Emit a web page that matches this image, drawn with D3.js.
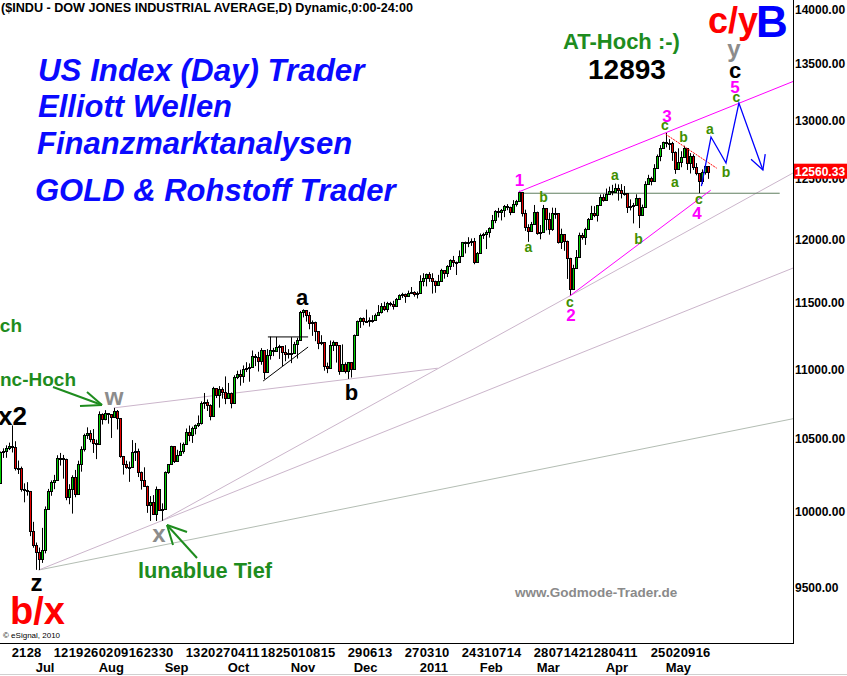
<!DOCTYPE html>
<html><head><meta charset="utf-8">
<script src="https://cdn.jsdelivr.net/npm/d3@7"></script>
<style>
html,body{margin:0;padding:0;background:#fff;}
svg{display:block;font-family:"Liberation Sans",Arial,sans-serif;}
</style></head><body>
<svg id="c" width="847" height="676"></svg>
<script>
// ---- data: daily candles, index 0 = 14 Jun 2010 ... index 237 = 20 May 2011 ----
const opens = [10212,10190,10405,10410,10434,10450,10442,10294,10298,10152,
10144,10138,9870,9774,9732,9686,9744,10018,10139,10198,
10216,10364,10367,10360,10098,10154,10230,10120,10322,10425,
10525,10537,10498,10468,10466,10674,10636,10680,10675,10654,
10698,10644,10379,10320,10303,10302,10406,10416,10271,10213,
10174,10040,10060,9985,10150,10010,10015,10270,10320,10448,
10341,10388,10416,10463,10544,10527,10573,10595,10608,10754,
10762,10739,10662,10860,10813,10858,10835,10788,10830,10752,
10945,10968,10948,11006,11011,11021,11096,11095,11063,11143,
10979,11108,11147,11133,11165,11170,11127,11114,11118,11125,
11189,11216,11434,11445,11407,11347,11358,11284,11193,11202,
11024,11008,11181,11204,11179,10988,11036,10988,11052,11006,
11256,11362,11382,11362,11359,11373,11370,11411,11429,11477,
11457,11499,11492,11479,11534,11560,11574,11555,11576,11585,
11570,11578,11671,11692,11723,11697,11675,11638,11672,11755,
11732,11787,11838,11825,11823,11872,11980,11978,11985,11989,
11824,11892,12040,12042,12062,12092,12161,12234,12229,12240,
12273,12268,12226,12288,12318,12391,12213,12106,12068,12130,
12226,12058,12066,12258,12170,12090,12214,12214,11985,12044,
11993,11855,11613,11775,11859,12037,12019,12086,12171,12221,
12198,12280,12350,12320,12377,12400,12394,12427,12410,12381,
12382,12263,12271,12286,12342,12202,12266,12453,12506,12480,
12595,12691,12763,12811,12808,12807,12724,12584,12639,12684,
12761,12631,12696,12596,12549,12479,12561,12606];
const highs = [10286,10410,10432,10453,10472,10594,10482,10347,10305,10190,
10198,10138,9930,9793,9760,9890,10033,10152,10210,10248,
10384,10400,10386,10360,10184,10245,10282,10346,10446,10535,
10580,10560,10568,10493,10694,10680,10703,10680,10675,10719,
10704,10644,10379,10346,10340,10490,10470,10430,10271,10300,
10174,10103,10110,10168,10150,10054,10272,10322,10450,10448,
10422,10471,10473,10572,10593,10585,10601,10665,10766,10827,
10780,10745,10872,10860,10877,10868,10948,10900,10830,10956,
10990,10997,11029,11053,11044,11140,11113,11130,11158,11143,
11150,11244,11160,11242,11183,11170,11180,11150,11240,11205,
11236,11440,11452,11445,11432,11367,11358,11284,11255,11202,
11050,11215,11215,11204,11179,11186,11052,11052,11052,11260,
11366,11390,11390,11450,11390,11407,11420,11485,11500,11510,
11510,11510,11518,11540,11568,11580,11574,11597,11625,11592,
11590,11717,11733,11730,11741,11733,11675,11720,11768,11757,
11797,11843,11870,11825,11914,11982,11985,12020,12010,12014,
11901,12050,12056,12076,12100,12201,12240,12259,12250,12283,
12290,12269,12323,12325,12400,12391,12244,12125,12144,12283,
12228,12119,12283,12258,12219,12261,12259,12214,12089,12044,
11993,11855,11800,11917,12057,12055,12096,12176,12276,12273,
12283,12370,12372,12419,12435,12450,12461,12454,12456,12440,
12382,12329,12300,12371,12342,12286,12480,12534,12518,12624,
12706,12786,12816,12893,12838,12815,12733,12759,12734,12781,
12761,12718,12708,12633,12549,12580,12624,12606];
const lows = [10186,10190,10365,10366,10420,10403,10278,10254,10133,10061,
10106,9835,9759,9615,9614,9660,9722,10010,10105,10150,
10210,10312,10222,10075,10048,9985,10095,10120,10270,10410,
10498,10475,10400,10357,10466,10600,10630,10606,10505,10650,
10565,10366,10250,10290,10200,10302,10344,10233,10147,10170,
9990,9936,9980,9936,10003,9937,10015,10255,10320,10330,
10340,10388,10395,10463,10482,10470,10530,10582,10600,10712,
10697,10630,10662,10790,10721,10786,10746,10788,10716,10752,
10928,10880,10901,10980,10909,11021,11024,10984,11034,10928,
10979,11072,11098,11133,11077,11024,11060,11080,11046,11125,
11080,11216,11390,11358,11300,11250,11210,11150,11180,10990,
10972,11008,11136,11050,10960,10988,10970,10930,10940,11006,
11250,11310,11330,11350,11320,11350,11365,11410,11420,11440,
11430,11475,11450,11479,11529,11540,11502,11550,11576,11550,
11536,11578,11631,11630,11665,11574,11580,11638,11672,11690,
11703,11759,11783,11719,11823,11870,11890,11940,11950,11804,
11817,11892,12006,11925,12017,12092,12134,12180,12156,12183,
12240,12199,12226,12270,12318,12188,12071,11983,12068,12130,
12040,12003,12066,12076,12041,12071,12170,11969,11925,11911,
11688,11555,11613,11775,11859,12000,11958,12086,12171,12183,
12147,12280,12310,12320,12368,12363,12394,12319,12337,12360,
12217,12238,12132,12286,12094,12202,12266,12453,12446,12480,
12591,12649,12757,12767,12745,12652,12542,12584,12598,12684,
12575,12545,12575,12530,12381,12457,12536,12500];
const closes = [10190,10405,10410,10434,10450,10442,10294,10298,10152,10144,
10138,9870,9774,9732,9686,9744,10018,10139,10198,10216,
10364,10367,10360,10098,10154,10230,10120,10322,10425,10525,
10537,10498,10468,10466,10674,10636,10680,10675,10654,10698,
10644,10379,10320,10303,10302,10406,10416,10271,10213,10174,
10040,10060,9985,10150,10010,10015,10270,10320,10448,10341,
10388,10416,10463,10544,10527,10573,10595,10608,10754,10762,
10739,10662,10860,10813,10858,10835,10788,10830,10752,10945,
10968,10948,11006,11011,11021,11096,11095,11063,11143,10979,
11108,11147,11133,11165,11170,11127,11114,11118,11125,11189,
11216,11434,11445,11407,11347,11358,11284,11193,11202,11024,
11008,11181,11204,11179,10988,11036,10988,11052,11006,11256,
11362,11382,11362,11359,11373,11370,11411,11429,11477,11457,
11499,11492,11479,11534,11560,11574,11555,11576,11585,11570,
11578,11671,11692,11723,11697,11675,11638,11672,11755,11732,
11787,11838,11825,11823,11872,11980,11978,11985,11989,11824,
11892,12040,12042,12062,12092,12161,12234,12229,12240,12273,
12268,12226,12288,12318,12391,12213,12106,12068,12130,12226,
12058,12066,12258,12170,12090,12214,12214,11985,12044,11993,
11855,11613,11775,11859,12037,12019,12086,12171,12221,12198,
12280,12350,12320,12377,12400,12394,12427,12410,12381,12382,
12263,12271,12286,12342,12202,12266,12453,12506,12480,12595,
12691,12763,12811,12808,12807,12724,12584,12639,12684,12761,
12631,12696,12596,12549,12479,12561,12606,12560.33];
const lastPrice = 12560.33;

// axis ticks
const yTicks = [14000,13500,13000,12500,12000,11500,11000,10500,10000,9500];
const dayTickIdx = [5,10,19,24,29,34,39,44,49,54,63,68,73,78,83,88,93,98,103,108,117,122,127,136,141,146,155,160,165,170,179,184,189,194,199,204,209,218,223,228,233];
const dayTickLabels = ['21','28','12','19','26','02','09','16','23','30','13','20','27','04','11','18','25','01','08','15','29','06','13','27','03','10','24','31','07','14','28','07','14','21','28','04','11','25','02','09','16'];
const monthTickIdx = [13,34,56,77,98,119,141,161,180,203,223];
const monthLabels = ['Jul','Aug','Sep','Oct','Nov','Dec','2011','Feb','Mar','Apr','May'];

// drawn study lines, as [candle index, price] anchors
const upperChannel = [[174,12391],[223,12893]];
const lowerChannel = [[191,11555],[238,12405]];
const fanLineX = [[55,9937],[191,11555]];
const fanLineZ1 = [[14,9614],[55,9937]];
const fanLineZ2 = [[14,9614],[237,10520]];
const wLine = [[39,10719],[118,10930]];
const wLineEnd = 147;
const wave1Level = 12380, wave1LevelFrom = 174, wave1LevelTo = 261;
const redTrend = [[223,12880],[240,12590]];
const blueForecast = [[234.9,12440],[238.1,12856],[243.1,12634],[247.4,13153],[255.4,12575]];
const triTop = [[90.4,11242],[103.8,11242]];
const triBottom = [[88.8,10914],[103.8,11166]];

// ---- drawing ----
const W = 847, H = 676, plotRight = 793, plotBottom = 643;
const svg = d3.select('#c');
const x = d3.scaleLinear().domain([0,1]).range([-3.3,-0.3]);
const y = d3.scaleLog().domain([14000,9500]).range([10,587.8]);

svg.append('rect').attr('width',W).attr('height',H).attr('fill','#fff');
svg.append('defs').append('clipPath').attr('id','clip')
  .append('rect').attr('x',0).attr('y',0).attr('width',plotRight).attr('height',plotBottom);
const g = svg.append('g').attr('clip-path','url(#clip)');

const P = d => [x(d[0]), y(d[1])];
function extendTo(a, b, xEnd){
  const [x1,y1]=P(a),[x2,y2]=P(b);
  const s=(y2-y1)/(x2-x1);
  return [[x1,y1],[xEnd, y1+s*(xEnd-x1)]];
}
function seg(pts, color, w, dash){
  g.append('path').attr('d', d3.line()(pts)).attr('fill','none')
   .attr('stroke',color).attr('stroke-width',w).attr('stroke-dasharray',dash||null);
}
// pale fan lines
seg(extendTo(fanLineZ2[0],fanLineZ2[1],plotRight),'#b3bdb3',1);
seg(extendTo(fanLineZ1[0],fanLineZ1[1],plotRight),'#cbb5cb',1);
seg(extendTo(fanLineX[0],fanLineX[1],plotRight),'#cbb5cb',1);
seg(extendTo(wLine[0],wLine[1],x(wLineEnd)),'#cbb5cb',1);
// horizontal wave-1 level
seg([[x(wave1LevelFrom),y(wave1Level)],[x(wave1LevelTo),y(wave1Level)]],'#5f7f5f',1);

// candles
const idx = d3.range(closes.length);
const cx = i => Math.round(x(i));
g.append('g').selectAll('line').data(idx).join('line')
  .attr('x1',i=>cx(i)+0.5).attr('x2',i=>cx(i)+0.5)
  .attr('y1',i=>y(Math.max(highs[i],opens[i],closes[i])))
  .attr('y2',i=>y(Math.min(lows[i],opens[i],closes[i])))
  .attr('stroke','#000').attr('stroke-width',1);
g.append('g').selectAll('rect').data(idx).join('rect')
  .attr('x',i=>cx(i)-0.5).attr('width',2)
  .attr('y',i=>Math.round(y(Math.max(opens[i],closes[i])))+0.5)
  .attr('height',i=>Math.max(1,Math.round(y(Math.min(opens[i],closes[i])))-Math.round(y(Math.max(opens[i],closes[i])))))
  .attr('fill',i=>closes[i]>=opens[i]?'#00d000':'#e80000')
  .attr('stroke','#000').attr('stroke-width',1);

// channels & forecast
seg(extendTo(upperChannel[0],upperChannel[1],plotRight),'#ff00ff',1);
seg([P(lowerChannel[0]),P(lowerChannel[1])],'#ff00ff',1);
seg([P(redTrend[0]),P(redTrend[1])],'#ff0000',1,'2,1');
seg([P(triTop[0]),P(triTop[1])],'#000',1);
seg([P(triBottom[0]),P(triBottom[1])],'#000',1);
const bp = blueForecast.map(P);
seg(bp,'#0000ff',1.3);
{
  const [ax,ay]=bp[bp.length-2],[bx,by]=bp[bp.length-1];
  const ang=Math.atan2(by-ay,bx-ax)+Math.PI, L=16, sp=0.49;
  seg([[bx+L*Math.cos(ang-sp),by+L*Math.sin(ang-sp)],[bx,by],[bx+L*Math.cos(ang+sp),by+L*Math.sin(ang+sp)]],'#0000ff',1.3);
}

// green arrows
const green='#1e8c1e';
function gl(pts){ svg.append('path').attr('d',d3.line()(pts)).attr('fill','none').attr('stroke',green).attr('stroke-width',2); }
gl([[53,387],[102,405]]); gl([[87,392],[102,405]]); gl([[80,406],[102,405]]);
gl([[197,558],[167,525]]); gl([[187,532],[167,525]]); gl([[173,545],[167,525]]);

// frame
svg.append('line').attr('x1',plotRight+0.5).attr('x2',plotRight+0.5).attr('y1',0).attr('y2',plotBottom+1).attr('stroke','#000');
svg.append('line').attr('x1',0).attr('x2',plotRight+1).attr('y1',plotBottom+0.5).attr('y2',plotBottom+0.5).attr('stroke','#000');
svg.append('line').attr('x1',0).attr('x2',W).attr('y1',674.5).attr('y2',674.5).attr('stroke','#d0d0d0');

// y axis labels
svg.append('g').selectAll('text').data(yTicks).join('text')
  .attr('x',795).attr('y',d=>y(d)).attr('dy','0.35em')
  .attr('font-size',12).attr('font-weight','bold').text(d=>d3.format('.2f')(d));
svg.append('rect').attr('x',plotRight+1).attr('y',y(lastPrice)-8).attr('width',W-plotRight).attr('height',15).attr('fill','#ff0000');
svg.append('text').attr('x',795).attr('y',y(lastPrice)).attr('dy','0.35em')
  .attr('font-size',12).attr('font-weight','bold').attr('fill','#fff').text(d3.format('.2f')(lastPrice));

// x axis labels
svg.append('g').selectAll('text').data(dayTickIdx).join('text')
  .attr('x',i=>x(i)).attr('y',657).attr('font-size',13).attr('font-weight','bold')
  .text((d,k)=>dayTickLabels[k]);
svg.append('g').selectAll('text').data(monthTickIdx).join('text')
  .attr('x',i=>x(i)).attr('y',672).attr('font-size',13).attr('font-weight','bold')
  .text((d,k)=>monthLabels[k]);

// texts
function T(str, px, py, o){
  o=o||{};
  svg.append('text').attr('x',px).attr('y',py).text(str)
    .attr('font-size',o.size||12).attr('font-weight',o.weight||'bold')
    .attr('font-style',o.style||null).attr('fill',o.color||'#000')
    .attr('text-anchor',o.anchor||'start');
}
T('($INDU - DOW JONES INDUSTRIAL AVERAGE,D) Dynamic,0:00-24:00',1,12,{size:12.6});
const blue='#0a0aff';
T('US Index (Day) Trader',38,81,{size:31.3,style:'italic',color:blue});
T('Elliott Wellen',38,117,{size:31,style:'italic',color:blue});
T('Finanzmarktanalysen',37,154,{size:31,style:'italic',color:blue});
T('GOLD & Rohstoff Trader',35,201,{size:31,style:'italic',color:blue});
T('Hoch',22,332,{size:19,color:green,anchor:'end'});
T('nc-Hoch',76,386,{size:19,color:green,anchor:'end'});
T('x2',27,425,{size:26,anchor:'end'});
T('w',114,405,{size:24,color:'#8c8c8c',anchor:'middle'});
T('z',36.5,591,{size:24,anchor:'middle'});
T('b/x',10,624,{size:38,color:'#ff0000'});
T('© eSignal, 2010',3,638,{size:8,weight:'normal'});
T('x',159,542,{size:24,color:'#8c8c8c',anchor:'middle'});
T('lunablue Tief',138,578,{size:21.8,color:green});
T('a',302,305,{size:22,anchor:'middle'});
T('b',351.5,400,{size:22,anchor:'middle'});
T('AT-Hoch :-)',563,49,{size:22,color:green});
T('12893',588,79,{size:28});
T('c/y',708,33,{size:36,color:'#ff0000'});
T('B',756,37,{size:44,color:'#0000ff'});
T('y',734,57,{size:24,color:'#8c8c8c',anchor:'middle'});
T('c',735,78,{size:22,anchor:'middle'});
T('www.Godmode-Trader.de',515,597,{size:13.5,color:'#8a8a8a'});
const mag='#ff00ff';
[['1',519.5,186],['2',571,321],['3',667,122],['4',697,219],['5',735,93]]
  .forEach(d=>T(d[0],d[1],d[2],{size:17,color:mag,anchor:'middle'}));
const olive='#3f8f00';
[['b',543.5,202],['a',528.5,252],['c',570,307],['a',615,180],['b',638.5,244],['c',665,130],
 ['b',683.5,142],['a',675,187],['c',699,204],['a',710,134],['b',726,177],['c',736.5,102]]
  .forEach(d=>T(d[0],d[1],d[2],{size:14,color:olive,anchor:'middle'}));
</script></body></html>
